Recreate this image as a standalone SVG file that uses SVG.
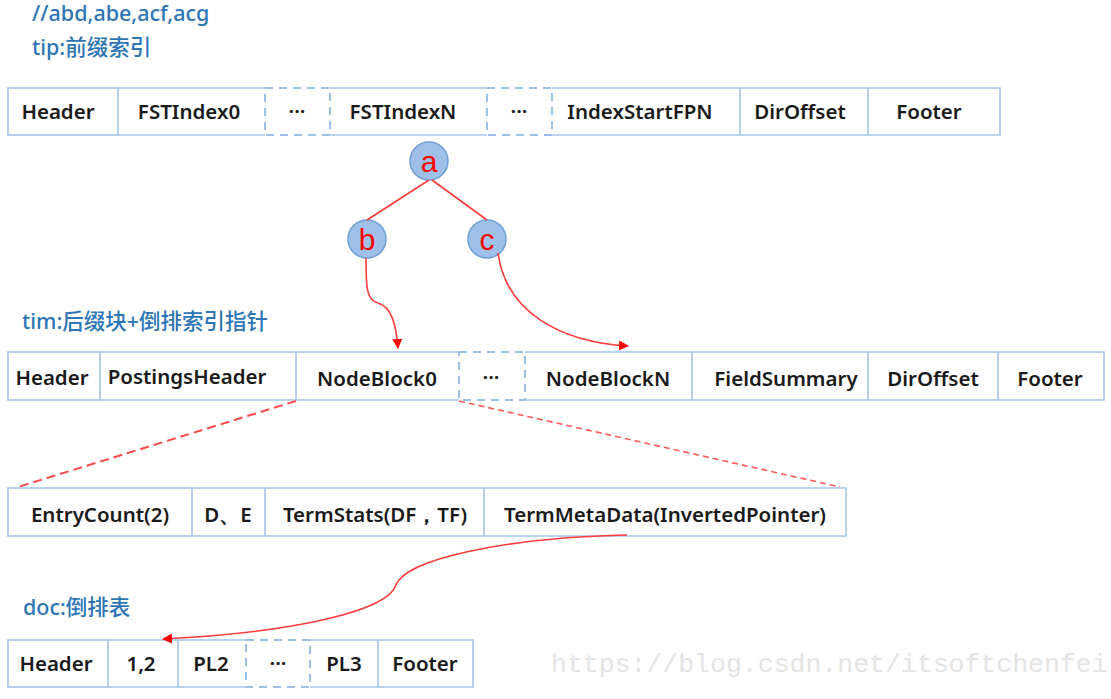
<svg xmlns="http://www.w3.org/2000/svg" width="1111" height="699" viewBox="0 0 1111 699">
<defs>
<style>
.cell{fill:none;stroke:#a4c6ea;stroke-width:1.6}
.dash{fill:none;stroke:#9cc0e8;stroke-width:2;stroke-dasharray:8 6}
.t{font-family:"Noto Sans","Liberation Sans",sans-serif;font-size:20.5px;font-weight:600;fill:#1a1a1a;text-anchor:middle}
.lbl{font-family:"Noto Sans","Noto Sans CJK SC",sans-serif;font-size:21.5px;fill:#2e75b6;font-weight:500}
.node{fill:#9ebfe8;stroke:#6f9fd6;stroke-width:1.5}
.nl{font-family:"Liberation Sans",sans-serif;font-size:30px;fill:#f00;text-anchor:middle}
.edge{fill:none;stroke:#ff3b3b;stroke-width:1.6}
.rdash{fill:none;stroke:#ff4a4a;stroke-width:2;stroke-dasharray:9 5}
.rdash2{fill:none;stroke:#ff5a5a;stroke-width:1.6;stroke-dasharray:6 4}
</style>
<marker id="arr" viewBox="0 0 10 10" refX="9" refY="5" markerWidth="10" markerHeight="10" markerUnits="userSpaceOnUse" orient="auto">
<path d="M0,0 L10,5 L0,10 z" fill="#ff0000"/>
</marker>
</defs>
<rect width="1111" height="699" fill="#fff"/>

<g id="labels">
<text class="lbl" x="32" y="21">//abd,abe,acf,acg</text>
<text class="lbl" x="32" y="55">tip:前缀索引</text>
<text class="lbl" x="22" y="329">tim:后缀块+倒排索引指针</text>
<text class="lbl" x="23" y="615">doc:倒排表</text>
</g>

<g id="row-tip">
<g id="tip-header"><rect class="cell" x="8" y="88" width="110" height="47"/><text class="t" x="58" y="119">Header</text></g>
<g id="tip-fst0"><path class="cell" d="M118,88 H265 M118,135 H265"/><text class="t" x="189" y="119">FSTIndex0</text></g>
<g id="tip-dots1"><rect class="dash" x="265" y="88" width="65" height="47"/><text class="t" x="297" y="119">···</text></g>
<g id="tip-fstN"><path class="cell" d="M330,88 H487 M330,135 H487"/><text class="t" x="403" y="119">FSTIndexN</text></g>
<g id="tip-dots2"><rect class="dash" x="487" y="88" width="65" height="47"/><text class="t" x="519" y="119">···</text></g>
<g id="tip-isf"><path class="cell" d="M552,88 H740 V135 H552"/><text class="t" x="640" y="119">IndexStartFPN</text></g>
<g id="tip-dir"><path class="cell" d="M740,88 H868 V135 H740"/><text class="t" x="800" y="119">DirOffset</text></g>
<g id="tip-footer"><path class="cell" d="M868,88 H1000 V135 H868"/><text class="t" x="929" y="119">Footer</text></g>
</g>

<g id="node-a"><circle class="node" cx="429" cy="161" r="19"/><text class="nl" x="429" y="172">a</text></g>
<g id="node-b"><circle class="node" cx="367" cy="239" r="19"/><text class="nl" x="367" y="250">b</text></g>
<g id="node-c"><circle class="node" cx="487" cy="239" r="19"/><text class="nl" x="487" y="250">c</text></g>

<g id="row-tim">
<g id="tim-header"><rect class="cell" x="8" y="352" width="92" height="48"/><text class="t" x="52" y="385">Header</text></g>
<g id="tim-ph"><path class="cell" d="M100,352 H296 V400 H100"/><text class="t" x="187" y="384">PostingsHeader</text></g>
<g id="tim-nb0"><path class="cell" d="M296,352 H459 M296,400 H459"/><text class="t" x="377" y="386">NodeBlock0</text></g>
<g id="tim-dots"><rect class="dash" x="459" y="352" width="66" height="48"/><text class="t" x="491" y="385">···</text></g>
<g id="tim-nbN"><path class="cell" d="M525,352 H692 V400 H525"/><text class="t" x="608" y="386">NodeBlockN</text></g>
<g id="tim-fs"><path class="cell" d="M692,352 H868 V400 H692"/><text class="t" x="786" y="386">FieldSummary</text></g>
<g id="tim-dir"><path class="cell" d="M868,352 H998 V400 H868"/><text class="t" x="933" y="386">DirOffset</text></g>
<g id="tim-footer"><path class="cell" d="M998,352 H1104 V400 H998"/><text class="t" x="1050" y="386">Footer</text></g>
</g>

<g id="row-block">
<g id="blk-ec"><rect class="cell" x="8" y="488" width="184" height="48"/><text class="t" x="100" y="522">EntryCount(2)</text></g>
<g id="blk-de"><path class="cell" d="M192,488 H265 V536 H192"/><text class="t" x="228" y="522">D、E</text></g>
<g id="blk-ts"><path class="cell" d="M265,488 H484 V536 H265"/><text class="t" x="375" y="522">TermStats(DF，TF)</text></g>
<g id="blk-tm"><path class="cell" d="M484,488 H846 V536 H484"/><text class="t" x="665" y="522">TermMetaData(InvertedPointer)</text></g>
</g>

<g id="row-doc">
<g id="doc-header"><rect class="cell" x="8" y="640" width="100" height="47"/><text class="t" x="56" y="671">Header</text></g>
<g id="doc-12"><path class="cell" d="M108,640 H178 V687 H108"/><text class="t" x="141" y="671">1,2</text></g>
<g id="doc-pl2"><path class="cell" d="M178,640 H246 M178,687 H246"/><text class="t" x="211" y="671">PL2</text></g>
<g id="doc-dots"><rect class="dash" x="246" y="640" width="64" height="47"/><text class="t" x="278" y="671">···</text></g>
<g id="doc-pl3"><path class="cell" d="M310,640 H378 V687 H310"/><text class="t" x="344" y="671">PL3</text></g>
<g id="doc-footer"><path class="cell" d="M378,640 H473 V687 H378"/><text class="t" x="425" y="671">Footer</text></g>
</g>

<g id="connectors">
<path class="edge" d="M429,180 L367,220"/>
<path class="edge" d="M432,180 L487,220"/>
<path class="edge" marker-end="url(#arr)" d="M366,258 C366,290 367,300 378,303 C392,307 396,325 398,348"/>
<path class="edge" marker-end="url(#arr)" d="M498,253 C506,312 560,342 628,346"/>
<path class="edge" marker-end="url(#arr)" d="M627,535 C500,538 405,560 396,585 C388,610 300,632 163,639"/>
<path class="rdash" d="M296,401 L18,487"/>
<path class="rdash2" d="M459,401 L840,487"/>
</g>

<text x="551" y="672" font-family="Liberation Mono, monospace" font-size="26.5" fill="#e4e4e4">https://blog.csdn.net/itsoftchenfei</text>
</svg>
